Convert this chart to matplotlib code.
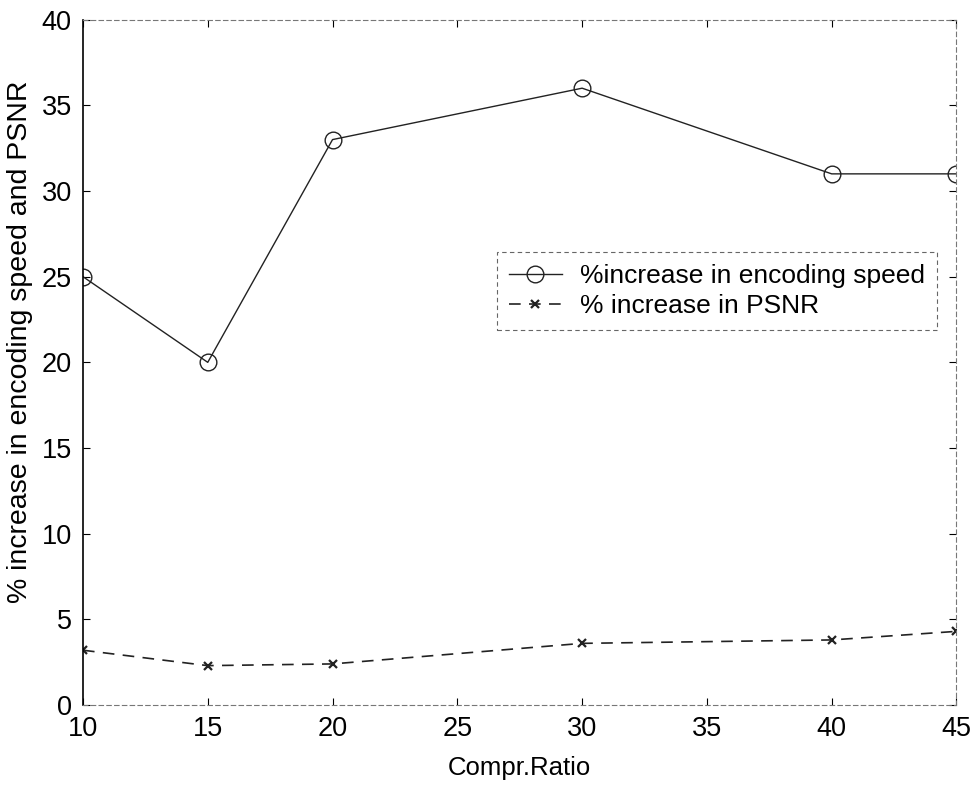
import matplotlib
matplotlib.use("Agg")
import matplotlib.pyplot as plt

plt.rcParams['font.family'] = ['Liberation Sans', 'DejaVu Sans']

compr_ratio = [10, 15, 20, 30, 40, 45]
speed_increase = [25, 20, 33, 36, 31, 31]
psnr_increase = [3.2, 2.3, 2.4, 3.6, 3.8, 4.3]

x_ticks = [10, 15, 20, 25, 30, 35, 40, 45]
y_ticks = [0, 5, 10, 15, 20, 25, 30, 35, 40]

fig = plt.figure(figsize=(9.76, 7.86), dpi=100)
ax = fig.add_axes([0.085, 0.103, 0.895, 0.872])

ax.plot(compr_ratio, speed_increase, color='#222222', lw=1.0, linestyle='-',
        marker='o', markersize=12, markerfacecolor='none',
        markeredgecolor='#222222', markeredgewidth=1.0,
        label='%increase in encoding speed')
ax.plot(compr_ratio, psnr_increase, color='#222222', lw=1.2,
        linestyle=(0, (7, 5)), marker='x', markersize=6,
        markeredgewidth=1.6, label='% increase in PSNR')

ax.set_xlim(10, 45)
ax.set_ylim(0, 40)
ax.set_xticks(x_ticks)
ax.set_yticks(y_ticks)
ax.tick_params(direction='in', length=5, labelsize=19.5, width=0.8,
               top=True, right=True, pad=8)

ax.spines['left'].set_linewidth(1.2)
for side in ('top', 'bottom', 'right'):
    ax.spines[side].set_linestyle((0, (4, 3)))
    ax.spines[side].set_linewidth(0.8)
    ax.spines[side].set_color('#777777')

ax.set_xlabel('Compr.Ratio', fontsize=18.5, labelpad=10)
ax.set_ylabel('% increase in encoding speed and PSNR', fontsize=20.5)
ax.yaxis.set_label_coords(-0.057, 0.53)

leg = ax.legend(loc='upper left', bbox_to_anchor=(0.474, 0.661),
                borderaxespad=0, fontsize=19, handlelength=2.0,
                handletextpad=0.7, borderpad=0.45, labelspacing=0.25,
                fancybox=False, framealpha=1)
leg.get_frame().set_edgecolor('#666666')
leg.get_frame().set_linestyle((0, (4, 3)))
leg.get_frame().set_linewidth(0.8)

fig.savefig('out.png', dpi=100)
